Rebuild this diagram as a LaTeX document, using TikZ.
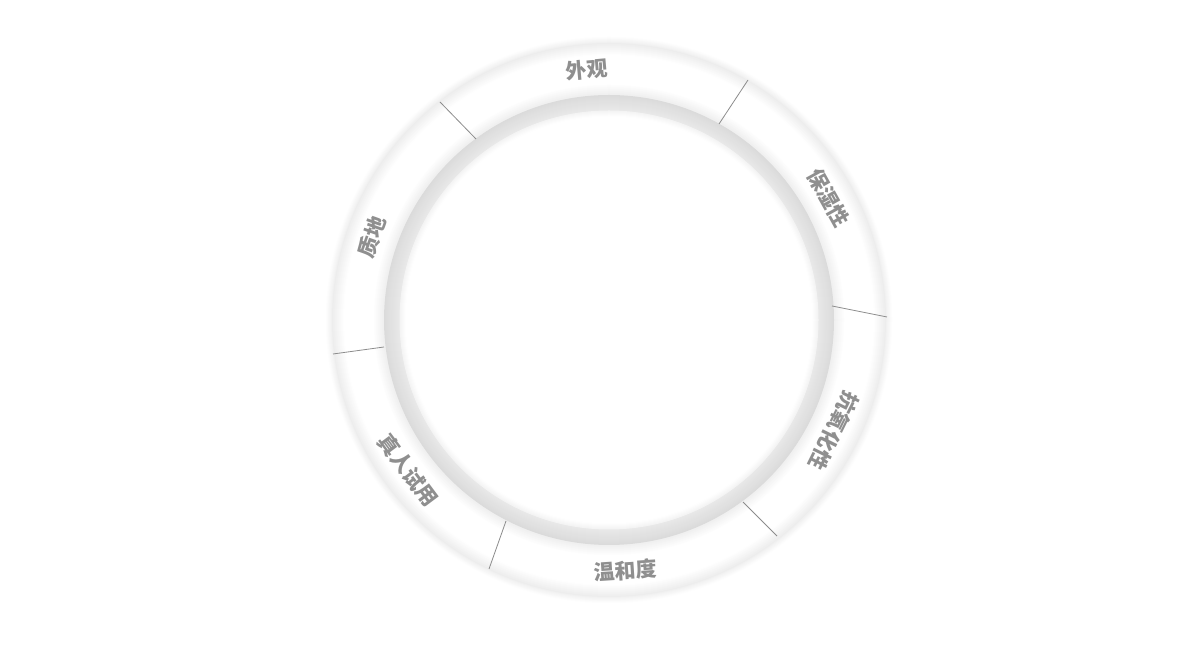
\documentclass[tikz,border=0pt]{standalone}
\usepackage{fontspec}
\newfontfamily\cjk{Noto Sans CJK SC}
\begin{document}
\begin{tikzpicture}[x=1pt, y=1pt, line width=0.9pt,
    etichetta/.style={font=\cjk\bfseries\fontsize{21}{25}\selectfont, text=black!44, inner sep=0pt}]

    % --- Riquadro di pagina ---
    \fill[white] (0,0) rectangle (1180,660);
    \useasboundingbox (0,0) rectangle (1180,660);
    \coordinate (ctr) at (609,340);

    % --- Ombra esterna dell'anello (dischi sovrapposti) ---
    \foreach \k in {0,...,5} {
        \pgfmathsetmacro\gr{0.8+0.9*\k}
        \fill[black!\gr] (ctr) circle (283-\k);
    }

    % --- Fascia bianca (settori) ---
    % sfumatura dal bordo esterno verso il bianco
    \foreach \k in {0,...,11} {
        \pgfmathsetmacro\gr{7-0.6*\k}
        \fill[black!\gr] (ctr) circle (277-\k);
    }
    \fill[white] (ctr) circle (265);
    % sfumatura dal bianco verso il bordo interno
    \foreach \k in {0,...,9} {
        \pgfmathsetmacro\gr{0.6+0.6*\k}
        \fill[black!\gr] (ctr) circle (235-\k);
    }

    % --- Fascia grigia interna ---
    \foreach \k in {0,...,15} {
        \pgfmathsetmacro\gr{14-0.35*\k}
        \fill[black!\gr] (ctr) circle (225-\k);
    }

    % --- Disco centrale con ombra interna ---
    \foreach \k in {0,...,5} {
        \pgfmathsetmacro\gr{4.5-0.8*\k}
        \fill[black!\gr] (ctr) circle (209.5-\k);
    }
    \fill[white] (ctr) circle (203.5);

    % --- Linee di separazione fra i settori ---
    \foreach \xa/\ya/\xb/\yb in {440/558/476/521, 748/580/719/536, 887/343/832/354,
                                  777/124/743/158, 489/91/506/139, 333/306/384/313} {
        \draw[black!45, line width=0.8pt] (\xa,\ya) -- (\xb,\yb);
    }

    % --- Etichette dei settori ---
    % \nome = nome del nodo, \ang = angolo polare, \rot = rotazione, \testo = etichetta
    \foreach \nome/\ang/\rot/\testo in {
        waiguan/95/5/外观,
        baoshixing/29.1/-60.9/保湿性,
        kangyanghua/-26.3/-116.3/抗氧化性,
        wenhedu/-86.2/3.8/温和度,
        zhenren/-143.2/-53.2/真人试用,
        zhidi/160.6/70.6/质地
    } {
        \node[etichetta, rotate=\rot] (\nome) at ([shift={(\ang:251)}]ctr) {\testo};
    }

\end{tikzpicture}
\end{document}
